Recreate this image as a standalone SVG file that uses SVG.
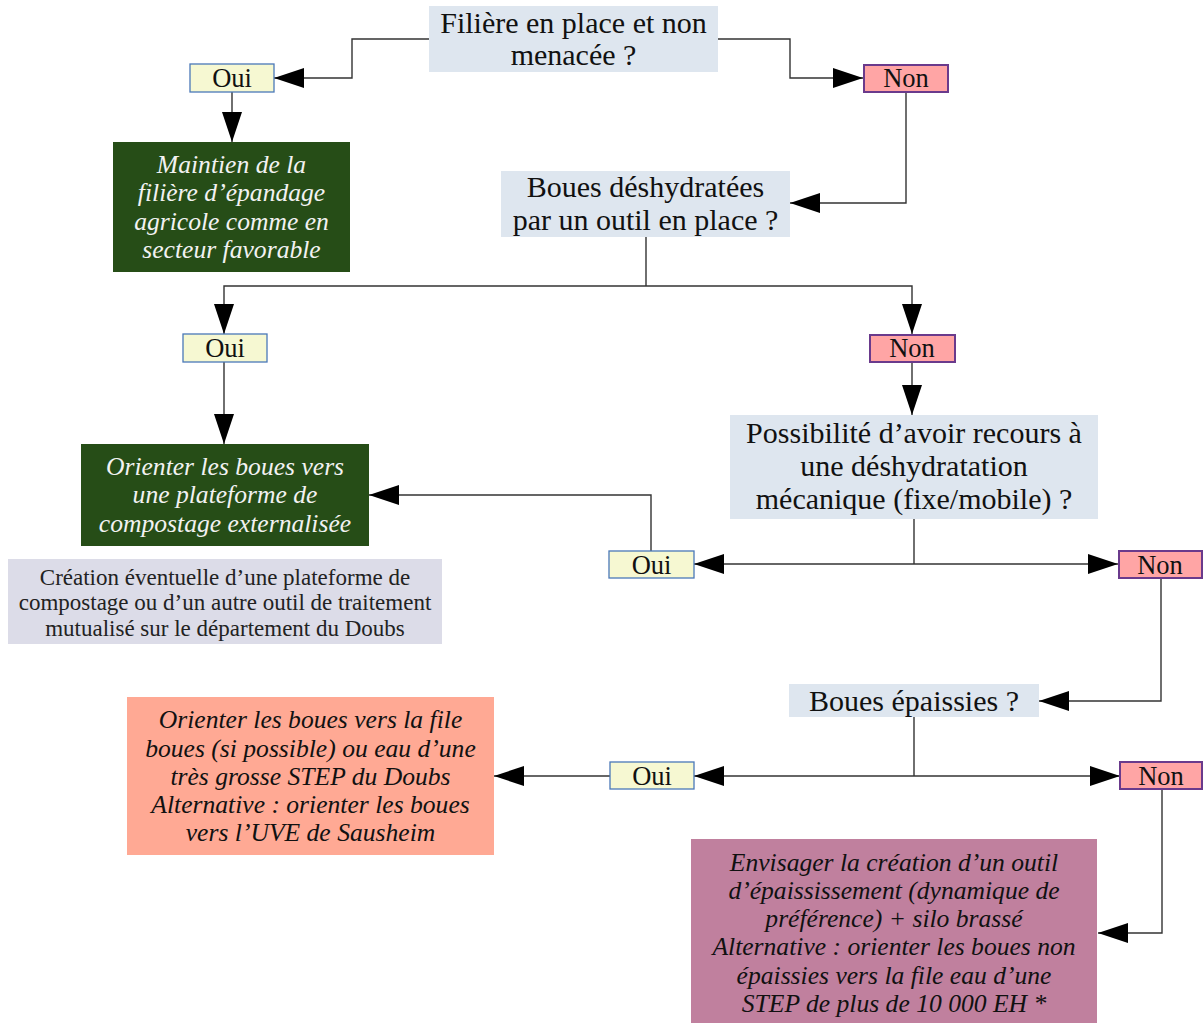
<svg xmlns="http://www.w3.org/2000/svg" width="1203" height="1023" viewBox="0 0 1203 1023">
<defs>
<style>
.q{fill:#dee6ef}
.oui{fill:#f6f8d2;stroke:#4a78b8;stroke-width:1.3}
.non{fill:#ffa5a5;stroke:#6a3a8c;stroke-width:2}
.green{fill:#264d17}
.salmon{fill:#ffa994}
.mauve{fill:#c0809e}
.gray{fill:#dcdce8}
text{font-family:"Liberation Serif","Times New Roman",serif;text-anchor:middle}
.tq{font-size:30px;fill:#111}
.tb{font-size:26.5px;fill:#111}
.ti{font-size:25.6px;font-style:italic;fill:#111}
.tw{font-size:25.6px;font-style:italic;fill:#f2f2f2}
.tg{font-size:23px;fill:#222}
.c{fill:none;stroke:#333;stroke-width:1.4;marker-end:url(#ah)}
.c2{fill:none;stroke:#333;stroke-width:1.4;marker-end:url(#ah);marker-start:url(#ah)}
.l{fill:none;stroke:#333;stroke-width:1.4}
</style>
<marker id="ah" markerUnits="userSpaceOnUse" markerWidth="30" markerHeight="20" viewBox="0 0 30 20" refX="30" refY="10" orient="auto-start-reverse">
<path d="M0,0 L30,10 L0,20 z" fill="#000"/>
</marker>
</defs>
<rect width="1203" height="1023" fill="#fff"/>
<g id="connectors">
<path class="c" d="M429,39 H352 V78 H274"/>
<path class="c" d="M718,39 H790 V78 H863"/>
<path class="c" d="M232,92 V142"/>
<path class="c" d="M906,92 V203 H790"/>
<path class="l" d="M646,237 V286"/>
<path class="c" d="M646,286 H224 V334"/>
<path class="c" d="M646,286 H912 V334"/>
<path class="c" d="M224,362 V444"/>
<path class="c" d="M912,362 V415"/>
<path class="l" d="M914,519 V564"/>
<path class="c2" d="M694,564 H1118"/>
<path class="c" d="M651,551 V495 H369"/>
<path class="c" d="M1161,578 V701 H1039"/>
<path class="l" d="M914,717 V776"/>
<path class="c2" d="M694,776 H1120"/>
<path class="c" d="M610,776 H494"/>
<path class="c" d="M1162,789 V933 H1098"/>
</g>
<g id="q1">
<rect class="q" x="429" y="6" width="289" height="66"/>
<text class="tq" x="573.5" y="33">Filière en place et non</text>
<text class="tq" x="573.5" y="65">menacée ?</text>
</g>
<g id="oui1">
<rect class="oui" x="190" y="64" width="84" height="28"/>
<text class="tb" x="232" y="87">Oui</text>
</g>
<g id="non1">
<rect class="non" x="864" y="65" width="84" height="27"/>
<text class="tb" x="906" y="87">Non</text>
</g>
<g id="maintien">
<rect class="green" x="113" y="142" width="237" height="130"/>
<text class="tw" x="231.5" y="173">Maintien de la</text>
<text class="tw" x="231.5" y="201">filière d’épandage</text>
<text class="tw" x="231.5" y="230">agricole comme en</text>
<text class="tw" x="231.5" y="258">secteur favorable</text>
</g>
<g id="q2">
<rect class="q" x="501" y="171" width="289" height="66"/>
<text class="tq" x="645.5" y="197">Boues déshydratées</text>
<text class="tq" x="645.5" y="230">par un outil en place ?</text>
</g>
<g id="oui2">
<rect class="oui" x="183" y="334" width="84" height="28"/>
<text class="tb" x="225" y="357">Oui</text>
</g>
<g id="non2">
<rect class="non" x="870" y="335" width="85" height="27"/>
<text class="tb" x="912" y="357">Non</text>
</g>
<g id="compostage">
<rect class="green" x="81" y="444" width="288" height="102"/>
<text class="tw" x="225" y="475">Orienter les boues vers</text>
<text class="tw" x="225" y="503">une plateforme de</text>
<text class="tw" x="225" y="532">compostage externalisée</text>
</g>
<g id="q3">
<rect class="q" x="730" y="415" width="368" height="104"/>
<text class="tq" x="914" y="443">Possibilité d’avoir recours à</text>
<text class="tq" x="914" y="476">une déshydratation</text>
<text class="tq" x="914" y="509">mécanique (fixe/mobile) ?</text>
</g>
<g id="oui3">
<rect class="oui" x="609" y="551" width="85" height="27"/>
<text class="tb" x="651.5" y="574">Oui</text>
</g>
<g id="non3">
<rect class="non" x="1119" y="551" width="83" height="27"/>
<text class="tb" x="1160" y="574">Non</text>
</g>
<g id="creation">
<rect class="gray" x="8" y="559" width="434" height="85"/>
<text class="tg" x="225" y="585">Création éventuelle d’une plateforme de</text>
<text class="tg" x="225" y="610">compostage ou d’un autre outil de traitement</text>
<text class="tg" x="225" y="636">mutualisé sur le département du Doubs</text>
</g>
<g id="q4">
<rect class="q" x="789" y="684" width="250" height="33"/>
<text class="tq" x="914" y="711">Boues épaissies ?</text>
</g>
<g id="oui4">
<rect class="oui" x="610" y="762" width="84" height="27"/>
<text class="tb" x="652" y="785">Oui</text>
</g>
<g id="non4">
<rect class="non" x="1120" y="762" width="82" height="27"/>
<text class="tb" x="1161" y="785">Non</text>
</g>
<g id="step">
<rect class="salmon" x="127" y="697" width="367" height="158"/>
<text class="ti" x="310.5" y="728">Orienter les boues vers la file</text>
<text class="ti" x="310.5" y="757">boues (si possible) ou eau d’une</text>
<text class="ti" x="310.5" y="785">très grosse STEP du Doubs</text>
<text class="ti" x="310.5" y="813">Alternative : orienter les boues</text>
<text class="ti" x="310.5" y="841">vers l’UVE de Sausheim</text>
</g>
<g id="epaississement">
<rect class="mauve" x="691" y="839" width="406" height="184"/>
<text class="ti" x="894" y="871">Envisager la création d’un outil</text>
<text class="ti" x="894" y="899">d’épaississement (dynamique de</text>
<text class="ti" x="894" y="927">préférence) + silo brassé</text>
<text class="ti" x="894" y="955">Alternative : orienter les boues non</text>
<text class="ti" x="894" y="984">épaissies vers la file eau d’une</text>
<text class="ti" x="894" y="1012">STEP de plus de 10 000 EH *</text>
</g>
</svg>
